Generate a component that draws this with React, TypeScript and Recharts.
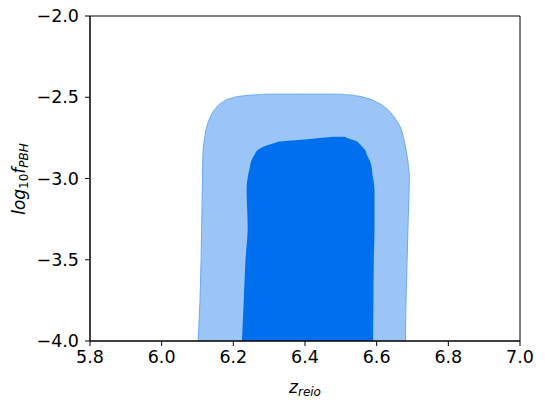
import React from 'react';
import { ComposedChart, Area, XAxis, YAxis, ReferenceArea, Label } from 'recharts';

// outer (95%) contour: x range [left, right] at each log10 f level
const outerLevels = [-4.0, -3.75, -3.5, -3.25, -3.0, -2.85, -2.75, -2.68, -2.62, -2.57, -2.53, -2.505, -2.492, -2.484, -2.481, -2.4805];
const outerLeft = [6.102, 6.107, 6.11, 6.112, 6.114, 6.115, 6.12, 6.126, 6.136, 6.15, 6.17, 6.195, 6.225, 6.27, 6.3, 6.395];
const outerRight = [6.68, 6.682, 6.685, 6.688, 6.691, 6.684, 6.675, 6.665, 6.648, 6.628, 6.6, 6.572, 6.545, 6.515, 6.49, 6.395];

// inner (68%) contour
const innerLevels = [-4.0, -3.75, -3.5, -3.3, -3.07, -2.97, -2.93, -2.886, -2.85, -2.825, -2.81, -2.795, -2.78, -2.773, -2.763, -2.752, -2.743];
const innerLeft = [6.224, 6.229, 6.234, 6.24, 6.237, 6.242, 6.246, 6.251, 6.26, 6.268, 6.278, 6.295, 6.318, 6.33, 6.38, 6.434, 6.479];
const innerRight = [6.59, 6.591, 6.592, 6.594, 6.594, 6.588, 6.586, 6.58, 6.572, 6.568, 6.562, 6.556, 6.549, 6.545, 6.535, 6.52, 6.51];

const xTicks = [5.8, 6.0, 6.2, 6.4, 6.6, 6.8, 7.0];
const yTicks = [-4.0, -3.5, -3.0, -2.5, -2.0];

const outerData = outerLevels.map((y, i) => ({ y, x: [outerLeft[i], outerRight[i]] }));
const innerData = innerLevels.map((y, i) => ({ y, x: [innerLeft[i], innerRight[i]] }));

const FONT = 'DejaVu Sans';
const fmt = (v: number) => v.toFixed(1).replace('-', '\u2212');

const XTitle = (props: any) => {
  const { viewBox } = props;
  const cx = viewBox.x + viewBox.width / 2;
  return (
    <text x={cx} y={392.5} textAnchor="middle" fontFamily={FONT} fontSize={17} fill="#000">
      <tspan fontStyle="italic">z</tspan>
      <tspan fontStyle="italic" fontSize={12} dy={3}>reio</tspan>
    </text>
  );
};

const YTitle = () => {
  const cx = 25;
  const cy = 179;
  return (
    <text x={cx} y={cy} transform={`rotate(-90, ${cx}, ${cy})`} textAnchor="middle" fontFamily={FONT} fontSize={17} fill="#000">
      <tspan fontStyle="italic">log</tspan>
      <tspan fontSize={12} dy={3}>10</tspan>
      <tspan fontStyle="italic" dy={-3}>f</tspan>
      <tspan fontStyle="italic" fontSize={12} dy={3}>PBH</tspan>
    </text>
  );
};

const App: React.FC = () => {
  return (
    <div style={{ position: 'absolute', left: 0, top: 0, width: 545, height: 406, background: '#fff' }}>
      <ComposedChart
        width={545}
        height={406}
        layout="vertical"
        margin={{ top: 16, right: 25, bottom: 0, left: 0 }}
        style={{ fontFamily: FONT }}
      >
        <XAxis
          type="number"
          dataKey="x"
          domain={[5.8, 7.0]}
          ticks={xTicks}
          allowDataOverflow
          height={65}
          tickSize={5}
          tickMargin={5}
          tickFormatter={fmt}
          tick={{ fill: '#000', fontSize: 17.5, fontFamily: FONT }}
          axisLine={{ stroke: '#000' }}
          tickLine={{ stroke: '#000' }}
        >
          <Label content={<XTitle />} />
        </XAxis>
        <YAxis
          type="number"
          dataKey="y"
          domain={[-4, -2]}
          ticks={yTicks}
          allowDataOverflow
          reversed
          width={90}
          tickSize={5}
          tickMargin={6}
          tickFormatter={fmt}
          tick={{ fill: '#000', fontSize: 17.5, fontFamily: FONT }}
          axisLine={{ stroke: '#000' }}
          tickLine={{ stroke: '#000' }}
        >
          <Label content={<YTitle />} />
        </YAxis>
        <Area
          data={outerData}
          dataKey="x"
          type="monotone"
          fill="#9cc5f7"
          fillOpacity={1}
          stroke="#6aa8f2"
          strokeWidth={1}
          isAnimationActive={false}
        />
        <Area
          data={innerData}
          dataKey="x"
          type="monotone"
          fill="#006fed"
          fillOpacity={1}
          stroke="none"
          isAnimationActive={false}
        />
        <ReferenceArea x1={5.8} x2={7.0} y1={-4} y2={-2} fill="none" stroke="#000" strokeWidth={1} ifOverflow="visible" />
      </ComposedChart>
    </div>
  );
};

export default App;
